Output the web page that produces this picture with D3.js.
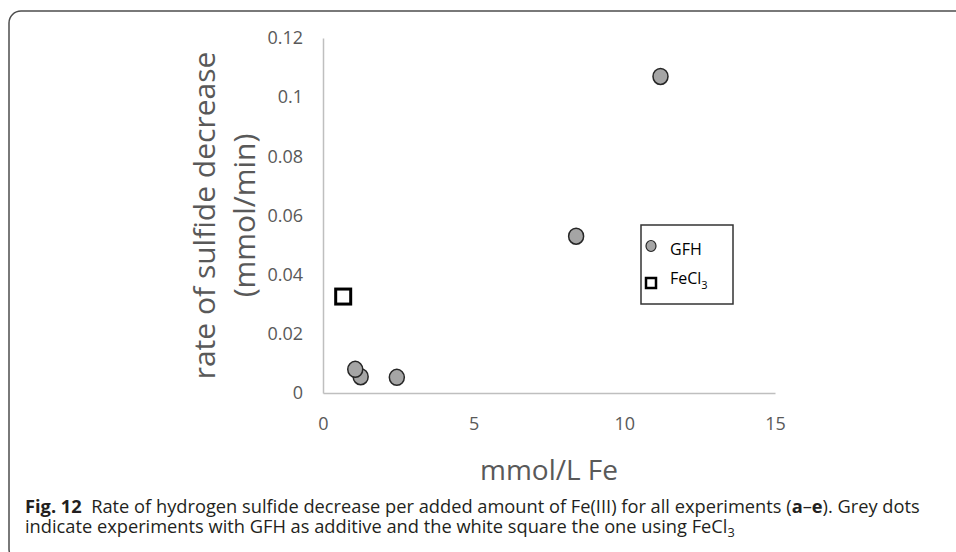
<!DOCTYPE html>
<html>
  <head>
    <meta charset="utf-8">
    <title>Sulfide decrease vs Fe</title>
    <script src="https://cdn.jsdelivr.net/npm/d3@7"></script>
    <style>
      body { margin: 0; background: #fff; }
      #chart { display: block; }
      .tick text { font-family: "Open Sans", sans-serif; font-size: 18px; fill: #595959; }
      .domain { stroke: #bfbfbf; stroke-width: 1.5px; }
      .title { font-family: "Open Sans", sans-serif; fill: #595959; }
      .caption { font-family: "Open Sans", sans-serif; font-size: 17px; fill: #231f20; }
    </style>
  </head>
  <body>
    <svg id="chart" width="956" height="552"></svg>

    <script>
      // data
      gfhX = [11.2, 8.4, 2.45, 1.25, 1.07];
      gfhY = [0.107, 0.053, 0.0053, 0.0055, 0.008];
      feclX = [0.67];
      feclY = [0.0326];
      xTicks = [0, 5, 10, 15];
      yTicks = [0, 0.02, 0.04, 0.06, 0.08, 0.1, 0.12];
      legendLabels = ["GFH", "FeCl"];

      chart = d3.select("#chart");

      margin = { top: 38, right: 181, bottom: 159, left: 323 };
      width = 956;
      height = 552;

      x = d3.scaleLinear()
        .domain([0, 15])
        .range([margin.left, width - margin.right]);
      y = d3.scaleLinear()
        .domain([0, 0.12])
        .range([height - margin.bottom, margin.top]);

      // outer frame
      chart.append("rect")
        .attr("x", 9)
        .attr("y", 11)
        .attr("width", 1000)
        .attr("height", 550)
        .attr("rx", 12)
        .attr("fill", "none")
        .attr("stroke", "#4d4d4d")
        .attr("stroke-width", 1.5);

      // axes
      xAxis = d3.axisBottom(x)
        .tickValues(xTicks)
        .tickSize(0)
        .tickSizeOuter(0)
        .tickPadding(24)
        .tickFormat(d3.format("d"));
      yAxis = d3.axisLeft(y)
        .tickValues(yTicks)
        .tickSize(0)
        .tickSizeOuter(0)
        .tickPadding(20)
        .tickFormat(function(d) { return String(d); });

      chart.append("g")
        .attr("transform", "translate(0, " + y(0) + ")")
        .call(xAxis);
      chart.append("g")
        .attr("transform", "translate(" + x(0) + ", 0)")
        .call(yAxis);

      // axis titles
      chart.append("text")
        .classed("title", true)
        .attr("x", (x(0) + x(15)) / 2)
        .attr("y", 480)
        .attr("text-anchor", "middle")
        .style("font-size", "28px")
        .text("mmol/L Fe");

      yTitle = chart.append("text")
        .classed("title", true)
        .attr("transform", "translate(215, " + (y(0) + y(0.12)) / 2 + ") rotate(-90)")
        .attr("text-anchor", "middle")
        .style("font-size", "30px");
      yTitle.append("tspan")
        .attr("x", 0)
        .attr("y", 0)
        .text("rate of sulfide decrease");
      yTitle.append("tspan")
        .attr("x", 0)
        .attr("y", 40)
        .text("(mmol/min)");

      // GFH points
      gfh = gfhX.map(function(d, i) { return { x: d, y: gfhY[i] }; });
      chart.append("g")
        .selectAll("ellipse")
        .data(gfh)
        .enter().append("ellipse")
          .attr("cx", function(d) { return x(d.x); })
          .attr("cy", function(d) { return y(d.y); })
          .attr("rx", 7.5)
          .attr("ry", 8)
          .attr("fill", "#a5a5a5")
          .attr("stroke", "#262626")
          .attr("stroke-width", 1.5);

      // FeCl3 point
      fecl = feclX.map(function(d, i) { return { x: d, y: feclY[i] }; });
      chart.append("g")
        .selectAll("rect")
        .data(fecl)
        .enter().append("rect")
          .attr("x", function(d) { return x(d.x) - 7.5; })
          .attr("y", function(d) { return y(d.y) - 7.5; })
          .attr("width", 15)
          .attr("height", 15)
          .attr("fill", "#fff")
          .attr("stroke", "#000")
          .attr("stroke-width", 3);

      // legend
      legend = chart.append("g")
        .attr("transform", "translate(641, 225)");
      legend.append("rect")
        .attr("width", 92)
        .attr("height", 79)
        .attr("fill", "#fff")
        .attr("stroke", "#333")
        .attr("stroke-width", 1.5);
      legend.append("ellipse")
        .attr("cx", 10)
        .attr("cy", 21)
        .attr("rx", 5)
        .attr("ry", 5.5)
        .attr("fill", "#a5a5a5")
        .attr("stroke", "#262626")
        .attr("stroke-width", 1.2);
      legend.append("rect")
        .attr("x", 5)
        .attr("y", 53)
        .attr("width", 10)
        .attr("height", 10)
        .attr("fill", "#fff")
        .attr("stroke", "#000")
        .attr("stroke-width", 2.5);
      legend.append("text")
        .attr("x", 29)
        .attr("y", 30)
        .style("font-family", "'Open Sans', sans-serif")
        .style("font-size", "16px")
        .attr("fill", "#000")
        .text(legendLabels[0]);
      feclText = legend.append("text")
        .attr("x", 29)
        .attr("y", 59)
        .style("font-family", "'Open Sans', sans-serif")
        .style("font-size", "16px")
        .attr("fill", "#000");
      feclText.append("tspan").text(legendLabels[1]);
      feclText.append("tspan")
        .attr("dy", 5)
        .style("font-size", "11px")
        .text("3");

      // caption
      line1 = chart.append("text")
        .classed("caption", true)
        .attr("x", 25)
        .attr("y", 513);
      line1.append("tspan").style("font-weight", "bold").text("Fig. 12");
      line1.append("tspan").text("\u00a0\u00a0Rate of hydrogen sulfide decrease per added amount of Fe(III) for all experiments (");
      line1.append("tspan").style("font-weight", "bold").text("a");
      line1.append("tspan").text("\u2013");
      line1.append("tspan").style("font-weight", "bold").text("e");
      line1.append("tspan").text("). Grey dots");

      line2 = chart.append("text")
        .classed("caption", true)
        .attr("x", 25)
        .attr("y", 533);
      line2.append("tspan").text("indicate experiments with GFH as additive and the white square the one using FeCl");
      line2.append("tspan")
        .attr("dy", 4)
        .style("font-size", "12px")
        .text("3");

      // fit caption to the printed line width
      captionSize = 17 * 895 / line1.node().getComputedTextLength();
      chart.selectAll(".caption").style("font-size", captionSize + "px");
      line2.select("tspan:last-child").style("font-size", (captionSize * 0.7) + "px");
    </script>
  </body>
</html>
